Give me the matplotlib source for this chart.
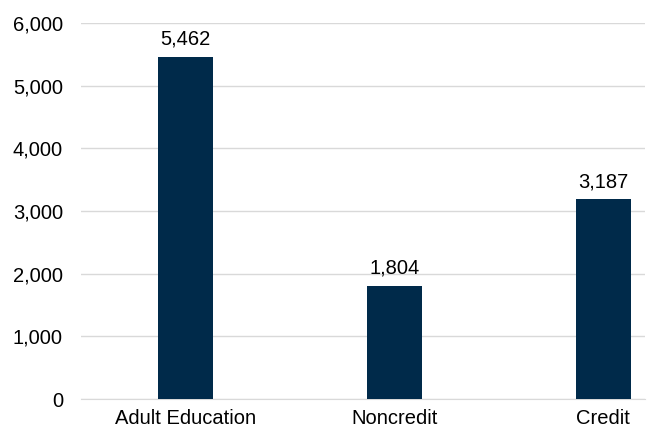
import matplotlib
matplotlib.use("Agg")
import matplotlib.pyplot as plt
from matplotlib.ticker import FuncFormatter

categories = ["Adult Education", "Noncredit", "Credit"]
values = [5462, 1804, 3187]
yticks = [0, 1000, 2000, 3000, 4000, 5000, 6000]

plt.rcParams['font.family'] = ['Liberation Sans', 'DejaVu Sans']
FS = 14.5

fig = plt.figure(figsize=(6.55, 4.30), dpi=100)
ax = fig.add_axes([0.1237, 0.072, 0.985 - 0.1237, 0.9465 - 0.072])

x = list(range(len(categories)))
bars = ax.bar(x, values, width=0.26, color="#002A4A", zorder=3)
for xi, v in zip(x, values):
    ax.text(xi, v + 130, f"{v:,}", ha="center", va="bottom", fontsize=FS, color="#000000")

ax.set_ylim(0, 6000)
ax.set_xlim(-0.5, 2.2)
ax.set_yticks(yticks)
ax.yaxis.set_major_formatter(FuncFormatter(lambda v, p: f"{int(v):,}"))
ax.set_xticks(x)
ax.set_xticklabels(categories)
ax.grid(axis="y", color="#D9D9D9", linewidth=1, zorder=0)
for s in ["top", "right", "left"]:
    ax.spines[s].set_visible(False)
ax.spines["bottom"].set_color("#D9D9D9")
ax.tick_params(axis="both", length=0, labelsize=FS, colors="#000000")
ax.tick_params(axis="y", pad=13)
ax.tick_params(axis="x", pad=7)

fig.savefig("out.png", dpi=100)
